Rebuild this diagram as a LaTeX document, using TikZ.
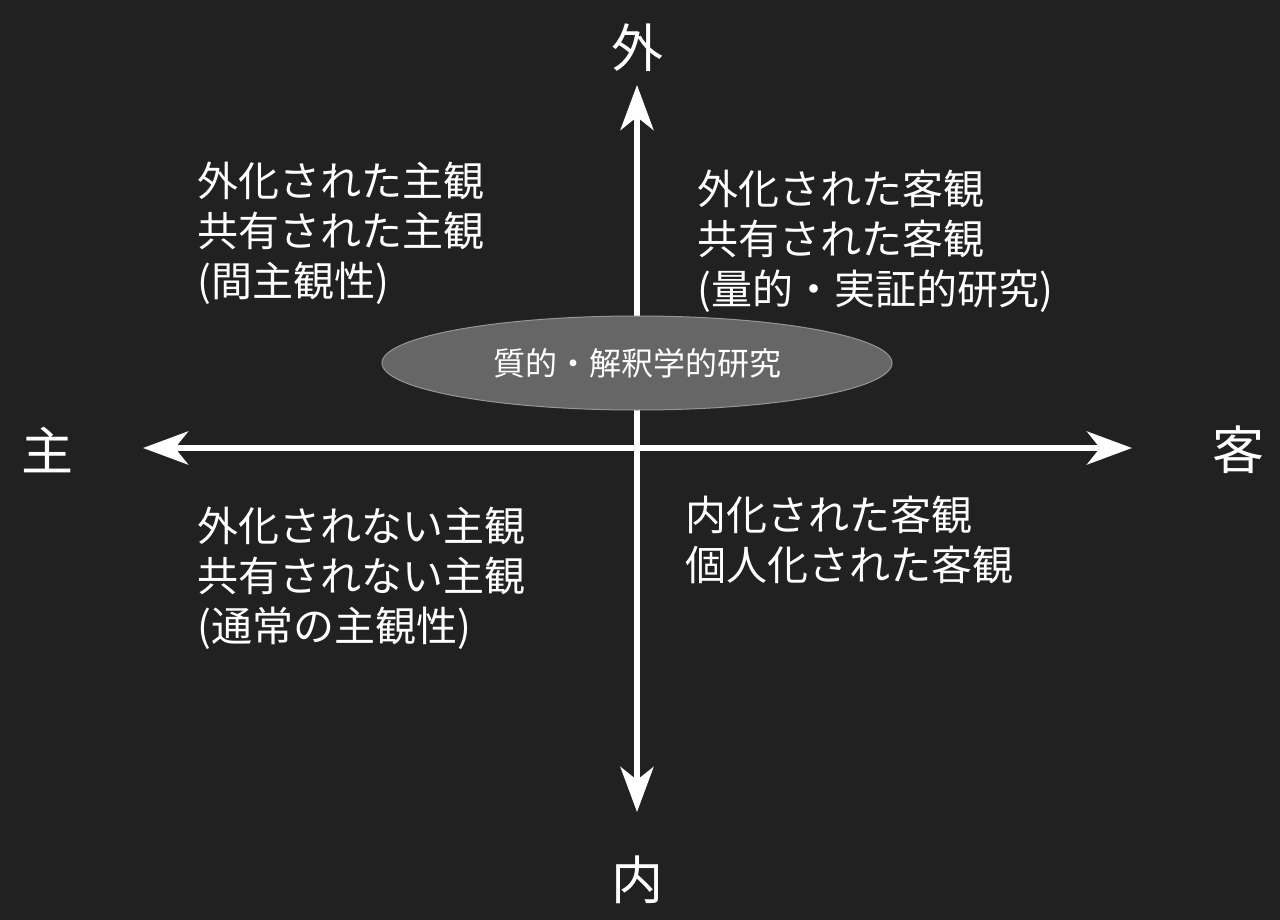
\documentclass[tikz,border=0pt]{standalone}
\usepackage{fontspec}
\setmainfont{Noto Sans CJK JP}
\usetikzlibrary{arrows.meta}
\definecolor{bgc}{RGB}{33,33,33}
\definecolor{ellfill}{RGB}{102,102,102}
\definecolor{ellline}{RGB}{150,150,150}
\tikzset{
  axisarrow/.style={draw=white, line width=6pt, -{Stealth[length=45pt,width=33pt,inset=13pt]}},
  axislabel/.style={text=white, inner sep=0pt, font=\fontsize{52}{60}\selectfont},
  quadtext/.style={text=white, inner sep=0pt, align=left, anchor=west, font=\fontsize{41}{50}\selectfont},
  ellnode/.style={ellipse shape},
}
\usetikzlibrary{shapes.geometric}
\begin{document}
\begin{tikzpicture}[x=1pt,y=-1pt]
\fill[bgc] (0,0) rectangle (1280,920);
\useasboundingbox (0,0) rectangle (1280,920);
% axis ends
\coordinate (top) at (637,85);
\coordinate (bot) at (637,812);
\coordinate (left) at (143,448);
\coordinate (right) at (1132,448);
\coordinate (c) at (637,448);
\draw[axisarrow] (c) -- (top);
\draw[axisarrow] (c) -- (bot);
\draw[axisarrow] (c) -- (left);
\draw[axisarrow] (c) -- (right);
% axis labels
\node[axislabel] (lout) at (637,48) {外};
\node[axislabel] (lin) at (637,880) {内};
\node[axislabel] (lsub) at (47,450) {主};
\node[axislabel] (lobj) at (1238,450) {客};
% ellipse
\node[ellipse, draw=ellline, line width=1pt, fill=ellfill, minimum width=510pt, minimum height=94pt, inner sep=0pt,
      text=white, font=\fontsize{32}{38}\selectfont] (ell) at (637,363) {質的・解釈学的研究};
% quadrant texts
\node[quadtext] (ul) at (197,233) {外化された主観\\共有された主観\\(間主観性)};
\node[quadtext] (ur) at (697,241) {外化された客観\\共有された客観\\(量的・実証的研究)};
\node[quadtext] (ll) at (197,578) {外化されない主観\\共有されない主観\\(通常の主観性)};
\node[quadtext] (lr) at (685,540) {内化された客観\\個人化された客観};
\end{tikzpicture}
\end{document}
